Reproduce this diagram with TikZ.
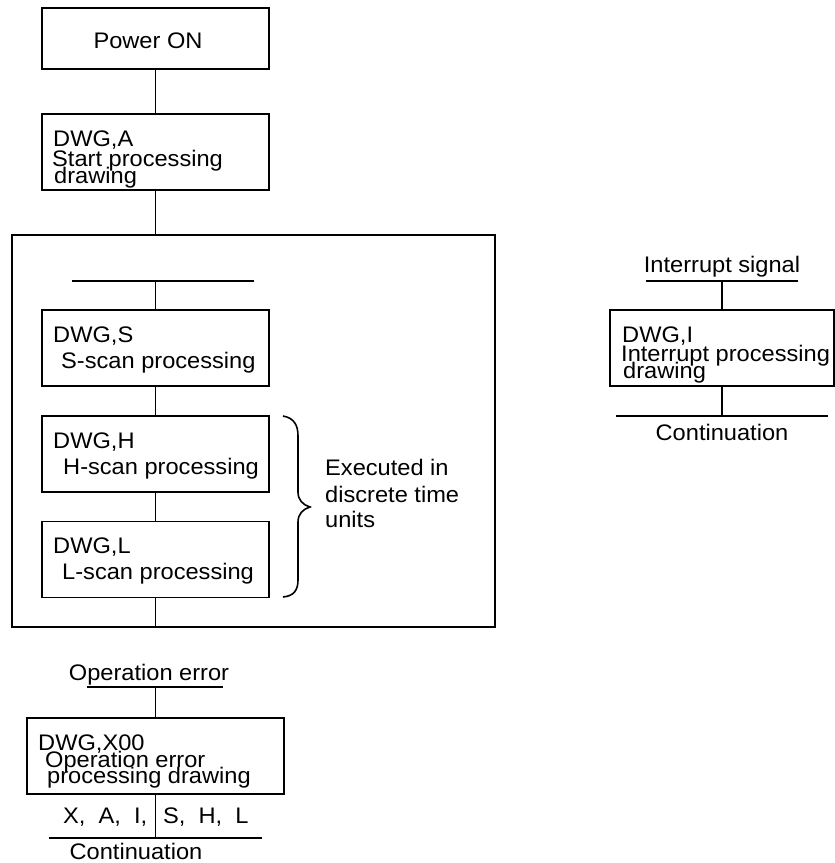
\documentclass[tikz,border=0pt]{standalone}
\usepackage{fontspec}
\setmainfont{Liberation Sans}[FakeStretch=1.05]
\begin{document}
\begin{tikzpicture}[x=1pt,y=-1pt,
  font=\fontsize{22.5pt}{26pt}\selectfont,
  box/.style={draw, line width=1.9pt, inner sep=0pt},
  txt/.style={anchor=base west, inner sep=0pt},
  ctxt/.style={anchor=base, inner sep=0pt},
  wire/.style={line width=1.9pt}]
\useasboundingbox (0,0) rectangle (835,863);

% ---- main sequence ----
\node[box, minimum width=227pt, minimum height=61pt] (pwr) at (155.5,38.5) {};
\node[ctxt] (pwrT) at (148,48) {Power ON};

\node[box, minimum width=227pt, minimum height=76pt] (dwga) at (155.5,152) {};
\node[txt] (dwgaA) at (53,146) {DWG,A};
\node[txt] (dwgaB) at (52,166) {Start processing};
\node[txt] (dwgaC) at (54,183) {drawing};

% scan loop frame
\node[box, minimum width=483pt, minimum height=392pt] (loop) at (253.5,431) {};
\coordinate (barL) at (72,281);
\coordinate (barR) at (254,281);
\coordinate (barC) at (155.5,281);

\node[box, minimum width=227pt, minimum height=76pt] (dwgs) at (155.5,348) {};
\node[txt] (dwgsA) at (53,342) {DWG,S};
\node[txt] (dwgsB) at (61,368) {S-scan processing};

\node[box, minimum width=227pt, minimum height=76pt] (dwgh) at (155.5,454) {};
\node[txt] (dwghA) at (53,448) {DWG,H};
\node[txt] (dwghB) at (63,474) {H-scan processing};

\node[box, minimum width=227pt, minimum height=76pt] (dwgl) at (155.5,559.5) {};
\node[txt] (dwglA) at (53,553) {DWG,L};
\node[txt] (dwglB) at (62,579) {L-scan processing};

% brace and its note
\draw[wire, line width=1.6pt] (283,416) .. controls (294,418) and (298,425) .. (298,436)
  -- (298,492) .. controls (298,500) and (303,505) .. (310,507)
  .. controls (303,509) and (298,514) .. (298,522)
  -- (298,580) .. controls (298,590) and (294,596) .. (283,597);
\node[txt] (noteA) at (325,475) {Executed in};
\node[txt] (noteB) at (325,502) {discrete time};
\node[txt] (noteC) at (325,527) {units};

\draw[wire] (pwr) -- (dwga);
\draw[wire] (dwga.south) -- (dwga.south |- loop.north);
\draw[wire] (barL) -- (barR);
\draw[wire] (barC) -- (dwgs.north);
\draw[wire] (dwgs) -- (dwgh);
\draw[wire] (dwgh) -- (dwgl);
\draw[wire] (dwgl.south) -- (dwgl.south |- loop.south);

% ---- operation error ----
\node[ctxt] (operr) at (149,680) {Operation error};
\coordinate (oeL) at (87,687);
\coordinate (oeR) at (223,687);
\coordinate (oeC) at (155.5,687);
\node[box, minimum width=257pt, minimum height=76pt] (x00) at (155.5,756) {};
\node[txt] (x00A) at (38,750) {DWG,X00};
\node[txt] (x00B) at (45,767) {Operation error};
\node[txt] (x00C) at (47,783) {processing drawing};
\coordinate (ctL) at (49,838);
\coordinate (ctR) at (262,838);
\coordinate (ctC) at (155.5,838);
\node[txt] (grpA) at (63,823) {X,\ \ A,\ \ I,};
\node[txt] (grpB) at (163,823) {S,\ \ H,\ \ L};
\node[ctxt] (cont1) at (136,859) {Continuation};
\draw[wire] (oeL) -- (oeR);
\draw[wire] (oeC) -- (x00.north);
\draw[wire] (x00.south) -- (ctC);
\draw[wire] (ctL) -- (ctR);

% ---- interrupt ----
\node[ctxt] (intsig) at (722,272) {Interrupt signal};
\coordinate (isL) at (646,281);
\coordinate (isR) at (798,281);
\coordinate (isC) at (722,281);
\node[box, minimum width=224pt, minimum height=76pt] (dwgi) at (722,348) {};
\node[txt] (dwgiA) at (622,342) {DWG,I};
\node[txt] (dwgiB) at (621,361) {Interrupt processing};
\node[txt] (dwgiC) at (623,378) {drawing};
\coordinate (icL) at (616,416);
\coordinate (icR) at (828,416);
\coordinate (icC) at (722,416);
\node[ctxt] (cont2) at (722,440) {Continuation};
\draw[wire] (isL) -- (isR);
\draw[wire] (isC) -- (dwgi.north);
\draw[wire] (dwgi.south) -- (icC);
\draw[wire] (icL) -- (icR);
\end{tikzpicture}
\end{document}
